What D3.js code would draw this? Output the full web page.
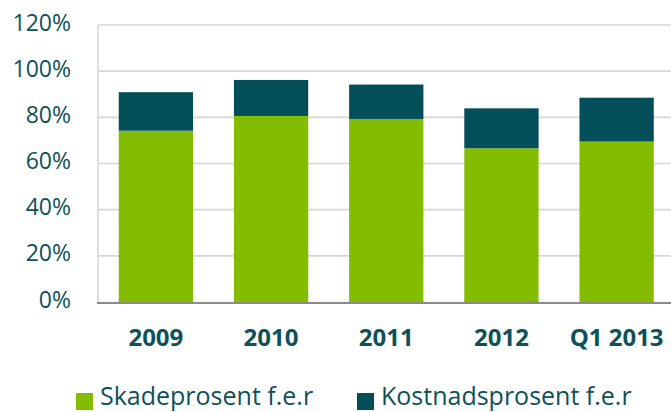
<!DOCTYPE html>
<html>
<head>
<meta charset="utf-8">
<script src="https://cdn.jsdelivr.net/npm/d3@7"></script>
<style>
    html, body { margin: 0; padding: 0; background: #fff; }
    svg { display: block; font-family: "Open Sans", sans-serif; }
</style>
</head>
<body>
<div id="chart-area"></div>
<script>
const categories = ["2009", "2010", "2011", "2012", "Q1 2013"];
const skadeprosent = [74.2, 80.6, 79.3, 66.6, 69.5];
const kostnadsprosent = [16.7, 15.6, 14.9, 17.3, 19.0];
const yTicks = [0, 20, 40, 60, 80, 100, 120];
const seriesNames = ["Skadeprosent f.e.r", "Kostnadsprosent f.e.r"];

const WIDTH = 671,
    HEIGHT = 412,
    LEFT = 98,
    RIGHT = 674.5,
    TOP = 25,
    BOTTOM = 302,
    COLOR_SKADE = '#84bc00',
    COLOR_KOSTNAD = '#024f59',
    COLOR_TEXT = '#0d5159',
    COLOR_GRID = '#dad6d2',
    COLOR_AXIS = '#8a8a8a';

const svg = d3.select("#chart-area")
    .append("svg")
    .attr("width", WIDTH)
    .attr("height", HEIGHT);

const x = d3.scaleBand()
    .domain(categories)
    .range([LEFT, RIGHT])
    .paddingInner(0.355)
    .paddingOuter(0.18);

const y = d3.scaleLinear()
    .domain([0, 120])
    .range([BOTTOM, TOP]);

// grid
svg.append("g")
    .selectAll("line")
    .data(yTicks.filter(d => d > 0))
    .join("line")
    .attr("x1", LEFT)
    .attr("x2", WIDTH)
    .attr("y1", d => y(d))
    .attr("y2", d => y(d))
    .attr("stroke", COLOR_GRID)
    .attr("stroke-width", 1.6);

svg.append("line")
    .attr("x1", LEFT).attr("x2", LEFT)
    .attr("y1", TOP).attr("y2", BOTTOM)
    .attr("stroke", COLOR_GRID)
    .attr("stroke-width", 1.6);

// stacked bars
const data = categories.map((c, i) => ({cat: c, skade: skadeprosent[i], kostnad: kostnadsprosent[i]}));
const stack = d3.stack().keys(["skade", "kostnad"])(data);
const colors = [COLOR_SKADE, COLOR_KOSTNAD];

svg.append("g")
    .selectAll("g")
    .data(stack)
    .join("g")
    .attr("fill", (d, i) => colors[i])
    .selectAll("rect")
    .data(d => d)
    .join("rect")
    .attr("x", d => x(d.data.cat))
    .attr("width", x.bandwidth())
    .attr("y", d => y(d[1]))
    .attr("height", d => y(d[0]) - y(d[1]));

// bottom axis line
svg.append("line")
    .attr("x1", LEFT - 1).attr("x2", WIDTH)
    .attr("y1", BOTTOM + 1).attr("y2", BOTTOM + 1)
    .attr("stroke", COLOR_AXIS)
    .attr("stroke-width", 2);

// y labels
svg.append("g")
    .selectAll("text")
    .data(yTicks)
    .join("text")
    .attr("x", 71)
    .attr("y", d => y(d) + 5.5)
    .attr("text-anchor", "end")
    .attr("font-size", 23)
    .attr("fill", COLOR_TEXT)
    .text(d => d + "%");

// x labels
svg.append("g")
    .selectAll("text")
    .data(categories)
    .join("text")
    .attr("x", d => x(d) + x.bandwidth() / 2)
    .attr("y", 345.5)
    .attr("text-anchor", "middle")
    .attr("font-size", 24)
    .attr("font-weight", "bold")
    .attr("fill", COLOR_TEXT)
    .text(d => d);

// legend
const legendX = [76, 357];
const legend = svg.append("g")
    .selectAll("g")
    .data(seriesNames)
    .join("g")
    .attr("transform", (d, i) => `translate(${legendX[i]},0)`);

legend.append("rect")
    .attr("x", 0)
    .attr("y", 393)
    .attr("width", 17)
    .attr("height", 17)
    .attr("fill", (d, i) => colors[i]);

legend.append("text")
    .attr("x", 24)
    .attr("y", 405)
    .attr("font-size", 25)
    .attr("fill", COLOR_TEXT)
    .text(d => d);
</script>
</body>
</html>
